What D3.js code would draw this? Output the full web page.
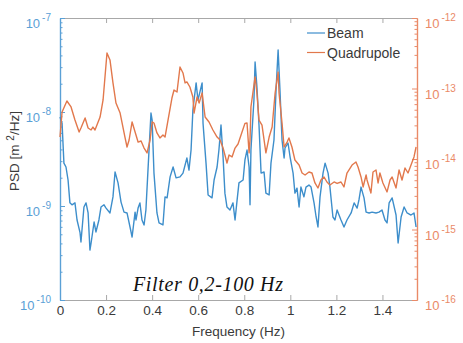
<!DOCTYPE html>
<html>
<head>
<meta charset="utf-8">
<script src="https://cdn.jsdelivr.net/npm/d3@7"></script>
<style>
  body { margin: 0; background: #fff; }
  svg { display: block; font-family: 'Liberation Sans', Arial, sans-serif; }
</style>
</head>
<body>
<div id="chart"></div>
<script>
// Beam PSD (left axis, m^2/Hz)
const beamFreq = [0, 0.009, 0.017, 0.026, 0.035, 0.043, 0.052, 0.065, 0.074, 0.087, 0.091, 0.104, 0.113, 0.122, 0.13, 0.135, 0.148, 0.156, 0.169, 0.178, 0.191, 0.2, 0.217, 0.23, 0.239, 0.252, 0.265, 0.278, 0.291, 0.304, 0.313, 0.326, 0.33, 0.339, 0.347, 0.356, 0.365, 0.373, 0.382, 0.395, 0.4, 0.408, 0.421, 0.43, 0.447, 0.456, 0.465, 0.478, 0.491, 0.504, 0.521, 0.534, 0.551, 0.56, 0.569, 0.577, 0.591, 0.599, 0.617, 0.621, 0.634, 0.643, 0.66, 0.669, 0.682, 0.69, 0.699, 0.708, 0.716, 0.725, 0.738, 0.751, 0.76, 0.769, 0.777, 0.795, 0.803, 0.812, 0.821, 0.825, 0.829, 0.842, 0.847, 0.855, 0.864, 0.873, 0.886, 0.894, 0.908, 0.916, 0.929, 0.938, 0.947, 0.955, 0.964, 0.973, 0.977, 0.99, 0.999, 1.012, 1.02, 1.029, 1.038, 1.046, 1.059, 1.068, 1.081, 1.09, 1.103, 1.112, 1.12, 1.129, 1.142, 1.151, 1.164, 1.172, 1.185, 1.194, 1.203, 1.22, 1.233, 1.246, 1.264, 1.277, 1.29, 1.298, 1.307, 1.32, 1.329, 1.342, 1.355, 1.372, 1.385, 1.398, 1.411, 1.42, 1.429, 1.442, 1.459, 1.468, 1.481, 1.494, 1.507, 1.524, 1.537, 1.546]
const beamPsd = [8.85e-9, 7.6e-9, 2.86e-9, 2.6e-9, 1.89e-9, 1.08e-9, 1.03e-9, 1.08e-9, 7.1e-10, 5.2e-10, 4.14e-10, 9.75e-10, 1.08e-9, 8.43e-10, 3.4e-10, 4.04e-10, 6.76e-10, 5.29e-10, 7.1e-10, 9.75e-10, 1.03e-9, 9.5e-10, 8.43e-10, 1.25e-9, 2.3e-9, 1.76e-9, 1.1e-9, 8.6e-10, 8.43e-10, 5.98e-10, 4.68e-10, 8.6e-10, 7.1e-10, 9.5e-10, 1.08e-9, 7.1e-10, 6.28e-10, 9.06e-10, 2.41e-9, 9.76e-9, 8.2e-9, 2.24e-9, 8.43e-10, 6.6e-10, 6.28e-10, 1.25e-9, 1.22e-9, 2.04e-9, 2.6e-9, 1.99e-9, 2.04e-9, 2.24e-9, 3.24e-9, 2.41e-9, 3.94e-9, 1.05e-8, 2.04e-8, 1.34e-8, 2.04e-8, 7.6e-9, 2.86e-9, 1.31e-9, 1.22e-9, 1.89e-9, 2.6e-9, 3.94e-9, 7.28e-9, 3.32e-9, 1.37e-9, 9.75e-10, 9.06e-10, 1.08e-9, 7.1e-10, 1.16e-9, 1.76e-9, 1.89e-9, 3.09e-9, 3.94e-9, 2.6e-9, 1.03e-9, 3.94e-9, 1.34e-8, 3.4e-8, 1.85e-8, 7.28e-9, 2.24e-9, 2.3e-9, 1.37e-9, 1.31e-9, 2.86e-9, 5.04e-9, 1.71e-8, 4.57e-8, 1.71e-8, 5.04e-9, 3.24e-9, 4.14e-9, 4.68e-9, 3.32e-9, 2.24e-9, 1.37e-9, 1.55e-9, 9.75e-10, 1.59e-9, 1.25e-9, 1.59e-9, 1.67e-9, 1.59e-9, 1.08e-9, 7.64e-10, 5.98e-10, 1.25e-9, 2.24e-9, 2.86e-9, 2.24e-9, 1.59e-9, 7.64e-10, 7.1e-10, 9.06e-10, 7.1e-10, 5.98e-10, 7.1e-10, 8.43e-10, 1.08e-9, 9.5e-10, 1.16e-9, 1.59e-9, 1.22e-9, 8.6e-10, 8.43e-10, 8.6e-10, 8.43e-10, 8.6e-10, 9.06e-10, 7.1e-10, 6.6e-10, 1.08e-9, 1.22e-9, 8.02e-10, 4.04e-10, 7.64e-10, 9.75e-10, 8.43e-10, 8.02e-10, 8.43e-10, 5.98e-10]

// Quadrupole PSD (right axis)
const quadFreq = [0, 0.009, 0.03, 0.048, 0.065, 0.083, 0.091, 0.109, 0.122, 0.135, 0.143, 0.152, 0.174, 0.187, 0.204, 0.217, 0.23, 0.243, 0.261, 0.282, 0.291, 0.3, 0.313, 0.326, 0.339, 0.352, 0.365, 0.378, 0.391, 0.4, 0.408, 0.421, 0.434, 0.447, 0.456, 0.469, 0.486, 0.495, 0.508, 0.521, 0.534, 0.543, 0.551, 0.564, 0.577, 0.582, 0.595, 0.604, 0.617, 0.63, 0.647, 0.664, 0.682, 0.695, 0.708, 0.716, 0.725, 0.734, 0.747, 0.76, 0.773, 0.79, 0.803, 0.812, 0.821, 0.825, 0.829, 0.847, 0.855, 0.864, 0.877, 0.894, 0.908, 0.921, 0.934, 0.947, 0.951, 0.964, 0.973, 0.986, 0.994, 1.007, 1.02, 1.038, 1.051, 1.064, 1.081, 1.094, 1.107, 1.12, 1.133, 1.146, 1.159, 1.172, 1.19, 1.203, 1.22, 1.233, 1.246, 1.268, 1.285, 1.294, 1.307, 1.316, 1.329, 1.333, 1.35, 1.359, 1.372, 1.381, 1.389, 1.402, 1.42, 1.433, 1.442, 1.459, 1.472, 1.485, 1.498, 1.511, 1.524, 1.537, 1.546]
const quadPsd = [2.05e-14, 4.64e-14, 6.65e-14, 5.47e-14, 3.57e-14, 2.41e-14, 2.75e-14, 3.82e-14, 2.75e-14, 2.58e-14, 2.84e-14, 2.58e-14, 3.94e-14, 6.87e-14, 3.19e-13, 2.54e-13, 1.2e-13, 6.23e-14, 4.49e-14, 2.05e-14, 1.48e-14, 1.86e-14, 3.35e-14, 2.41e-14, 1.74e-14, 1.8e-14, 1.43e-14, 1.22e-14, 1.86e-14, 3.35e-14, 3.24e-14, 2.34e-14, 1.99e-14, 2.19e-14, 2.05e-14, 3.57e-14, 7.33e-14, 9.53e-14, 8.92e-14, 2.02e-13, 1.66e-13, 1.2e-13, 1.24e-13, 1.05e-13, 7.57e-14, 4.49e-14, 7.57e-14, 6.23e-14, 8.63e-14, 3.94e-14, 3.35e-14, 2.58e-14, 2.05e-14, 1.86e-14, 1.43e-14, 1.14e-14, 8.77e-15, 1.14e-14, 1.07e-14, 1.43e-14, 1.63e-14, 2.4e-14, 3.2e-14, 3.24e-14, 1.22e-14, 1.86e-14, 5.47e-14, 1.46e-13, 8.63e-14, 3.57e-14, 3.03e-14, 1.22e-14, 2.05e-14, 2.84e-14, 8.63e-14, 1.71e-13, 8.63e-14, 3.24e-14, 1.48e-14, 1.74e-14, 1.99e-14, 1.48e-14, 9.68e-15, 8.22e-15, 6.33e-15, 5.93e-15, 6.54e-15, 6.33e-15, 4.57e-15, 3.88e-15, 5.04e-15, 5.56e-15, 4.72e-15, 4.28e-15, 4.72e-15, 4.5e-15, 4.72e-15, 4.01e-15, 6.33e-15, 8.22e-15, 9.06e-15, 7.7e-15, 5.56e-15, 4.01e-15, 5.93e-15, 5.04e-15, 3.3e-15, 6.54e-15, 6.98e-15, 4.57e-15, 6.33e-15, 4.57e-15, 3.41e-15, 5.04e-15, 5.56e-15, 3.88e-15, 6.98e-15, 5.04e-15, 7.45e-15, 6.33e-15, 8.22e-15, 1.07e-14, 1.48e-14]

const freqTicks = [0, 0.2, 0.4, 0.6, 0.8, 1, 1.2, 1.4]
const leftExps = [-10, -9, -8, -7]
const rightExps = [-16, -15, -14, -13, -12]
const seriesNames = ['Beam', 'Quadrupole']
const annotation = 'Filter 0,2-100 Hz'

const width = 463
const height = 343
const plot = { left: 60, right: 417, top: 18, bottom: 300 }

const blue = '#3d8ecb'
const orange = '#e2784c'
const blueAxis = '#5aa0d6'
const orangeAxis = '#ea8a68'
const grayAxis = '#a8a8a8'
const textColor = '#3a3a3a'

const svg = d3.select('#chart')
  .append('svg')
  .attr('width', width)
  .attr('height', height)

const x = d3.scaleLinear().domain([0, 1.55]).range([plot.left, plot.right])
const yLeft = d3.scaleLog().domain([1e-10, 1e-7]).range([plot.bottom, plot.top])
const yRight = d3.scaleLog().domain([1e-16, 1e-12]).range([plot.bottom, plot.top])

// minor log ticks 2..9 in each decade
const minorTicks = exps => {
  const out = []
  exps.slice(0, -1).forEach(e => {
    for (let k = 2; k <= 9; k++) out.push(k * Math.pow(10, e))
  })
  return out
}

function styleAxis(g, color) {
  g.select('.domain').attr('stroke', color).attr('stroke-width', 1.2)
  g.selectAll('.tick line').attr('stroke', color)
}

// bottom + top axes (gray)
const bottomAxis = svg.append('g')
  .attr('transform', `translate(0,${plot.bottom})`)
  .call(d3.axisBottom(x).tickValues(freqTicks).tickSizeInner(-5).tickSizeOuter(0).tickPadding(5)
    .tickFormat(d => String(d)))
styleAxis(bottomAxis, grayAxis)
bottomAxis.selectAll('.tick text')
  .attr('fill', textColor)
  .attr('font-size', 13.5)
  .attr('font-family', "'Liberation Sans', Arial, sans-serif")

const topAxis = svg.append('g')
  .attr('transform', `translate(0,${plot.top})`)
  .call(d3.axisTop(x).tickValues(freqTicks).tickSizeInner(-5).tickSizeOuter(0).tickFormat(''))
styleAxis(topAxis, grayAxis)

// left axis (blue)
const leftMinor = svg.append('g')
  .attr('transform', `translate(${plot.left},0)`)
  .call(d3.axisLeft(yLeft).tickValues(minorTicks(leftExps)).tickSizeInner(-2.5).tickSizeOuter(0).tickFormat(''))
styleAxis(leftMinor, blueAxis)
const leftMajor = svg.append('g')
  .attr('transform', `translate(${plot.left},0)`)
  .call(d3.axisLeft(yLeft).tickValues(leftExps.map(e => Math.pow(10, e))).tickSizeInner(-5).tickSizeOuter(0).tickFormat(''))
styleAxis(leftMajor, blueAxis)

// right axis (orange)
const rightMinor = svg.append('g')
  .attr('transform', `translate(${plot.right},0)`)
  .call(d3.axisRight(yRight).tickValues(minorTicks(rightExps)).tickSizeInner(-2.5).tickSizeOuter(0).tickFormat(''))
styleAxis(rightMinor, orangeAxis)
const rightMajor = svg.append('g')
  .attr('transform', `translate(${plot.right},0)`)
  .call(d3.axisRight(yRight).tickValues(rightExps.map(e => Math.pow(10, e))).tickSizeInner(-5).tickSizeOuter(0).tickFormat(''))
styleAxis(rightMajor, orangeAxis)

// power-of-ten labels
function powerLabels(exps, scale, xPos, anchor, color) {
  const t = svg.append('g')
    .selectAll('text')
    .data(exps)
    .join('text')
    .attr('x', xPos)
    .attr('y', d => scale(Math.pow(10, d)) + 10)
    .attr('text-anchor', anchor)
    .attr('fill', color)
    .attr('font-size', 13)
  t.append('tspan').text('10')
  t.append('tspan')
    .attr('dx', 2)
    .attr('dy', -7)
    .attr('font-size', 10)
    .text(d => `${d}`)
}
powerLabels(leftExps, yLeft, 51, 'end', blueAxis)
powerLabels(rightExps, yRight, 425, 'start', orangeAxis)

// lines
const lineBeam = d3.line()
  .x((d, i) => x(beamFreq[i]))
  .y(d => yLeft(d))
const lineQuad = d3.line()
  .x((d, i) => x(quadFreq[i]))
  .y(d => yRight(d))

svg.append('path')
  .datum(beamPsd)
  .attr('d', lineBeam)
  .attr('fill', 'none')
  .attr('stroke', blue)
  .attr('stroke-width', 1.4)
  .attr('stroke-linejoin', 'round')

svg.append('path')
  .datum(quadPsd)
  .attr('d', lineQuad)
  .attr('fill', 'none')
  .attr('stroke', orange)
  .attr('stroke-width', 1.4)
  .attr('stroke-linejoin', 'round')

// axis titles
svg.append('text')
  .attr('x', (plot.left + plot.right) / 2)
  .attr('y', 336)
  .attr('text-anchor', 'middle')
  .attr('fill', textColor)
  .attr('font-size', 13.5)
  .text('Frequency (Hz)')

const yTitle = svg.append('text')
  .attr('transform', `translate(19,${(plot.top + plot.bottom) / 2 - 8}) rotate(-90)`)
  .attr('text-anchor', 'middle')
  .attr('fill', textColor)
  .attr('font-size', 13.5)
yTitle.append('tspan').text('PSD [m ')
yTitle.append('tspan').attr('dy', -5).attr('font-size', 10).text('2')
yTitle.append('tspan').attr('dy', 5).text('/Hz]')

// legend
const legend = svg.append('g').attr('transform', 'translate(307,33)')
const legendColors = [blue, orange]
seriesNames.forEach((name, i) => {
  const row = legend.append('g').attr('transform', `translate(0,${i * 19.5})`)
  row.append('line')
    .attr('x1', 0).attr('x2', 18)
    .attr('stroke', legendColors[i])
    .attr('stroke-width', 1.2)
  row.append('text')
    .attr('x', 20)
    .attr('y', 5)
    .attr('fill', textColor)
    .attr('font-size', 14)
    .text(name)
})

// annotation
svg.append('text')
  .attr('x', 133)
  .attr('y', 291)
  .attr('font-family', "'Liberation Serif', 'Times New Roman', serif")
  .attr('font-style', 'italic')
  .attr('font-size', 20)
  .attr('textLength', 150)
  .attr('lengthAdjust', 'spacing')
  .attr('fill', '#111')
  .text(annotation)
</script>
</body>
</html>
